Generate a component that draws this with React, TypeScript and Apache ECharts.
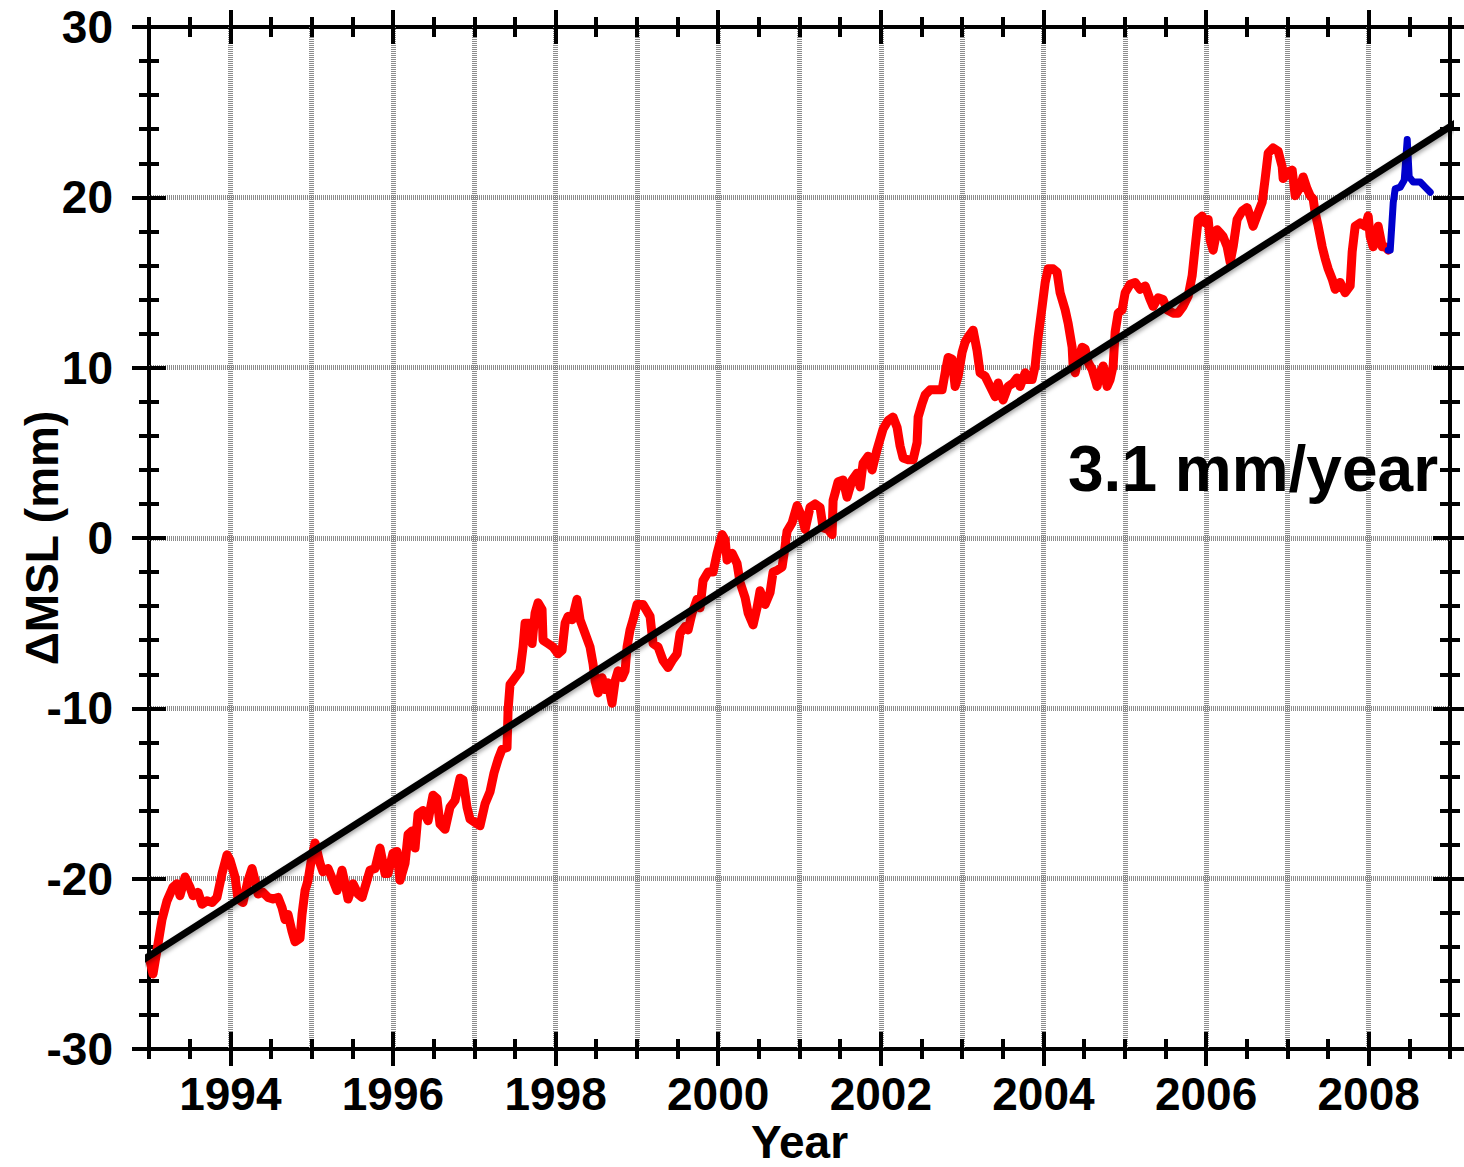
import React, { useEffect, useRef } from 'react';
import * as echarts from 'echarts';

// ---- data ----
const redYears = [
  1993.012, 1993.049, 1993.098, 1993.160, 1993.221, 1993.295, 1993.344, 1993.381, 1993.443, 1993.504, 1993.541, 1993.603, 1993.652, 1993.713, 1993.775, 1993.836, 1993.898, 1993.959, 1993.996,
  1994.058, 1994.095, 1994.156, 1994.218, 1994.267, 1994.304, 1994.341, 1994.402, 1994.464, 1994.525, 1994.587, 1994.636, 1994.673, 1994.710, 1994.759, 1994.796, 1994.857, 1994.882, 1994.919, 1994.956, 1994.993,
  1995.042, 1995.103, 1995.140, 1995.202, 1995.263, 1995.312, 1995.374, 1995.411, 1995.448, 1995.509, 1995.571, 1995.620, 1995.681, 1995.718, 1995.780, 1995.841, 1995.903, 1995.940,
  1996.001, 1996.050, 1996.087, 1996.149, 1996.186, 1996.235, 1996.272, 1996.309, 1996.370, 1996.432, 1996.493, 1996.542, 1996.579, 1996.641, 1996.702, 1996.764, 1996.825, 1996.862, 1996.911, 1996.948,
  1997.010, 1997.071, 1997.133, 1997.194, 1997.243, 1997.293, 1997.342, 1997.403, 1997.416, 1997.440, 1997.502, 1997.563, 1997.600, 1997.625, 1997.686, 1997.711, 1997.748, 1997.785, 1997.834, 1997.846, 1997.908, 1997.969,
  1998.031, 1998.080, 1998.117, 1998.154, 1998.203, 1998.264, 1998.301, 1998.363, 1998.424, 1998.461, 1998.486, 1998.523, 1998.572, 1998.609, 1998.646, 1998.695, 1998.732, 1998.769, 1998.818, 1998.855, 1998.879, 1998.916, 1998.953,
  1999.002, 1999.076, 1999.162, 1999.199, 1999.261, 1999.322, 1999.384, 1999.433, 1999.494, 1999.531, 1999.593, 1999.630, 1999.679, 1999.740, 1999.777, 1999.814, 1999.876, 1999.937, 1999.986,
  2000.048, 2000.085, 2000.109, 2000.171, 2000.232, 2000.269, 2000.331, 2000.368, 2000.429, 2000.478, 2000.515, 2000.577, 2000.638, 2000.675, 2000.724, 2000.786, 2000.823, 2000.847, 2000.909, 2000.970,
  2001.032, 2001.069, 2001.130, 2001.192, 2001.253, 2001.290, 2001.352, 2001.401, 2001.413, 2001.475, 2001.536, 2001.585, 2001.647, 2001.708, 2001.745, 2001.782, 2001.844, 2001.893, 2001.954, 2001.991,
  2002.028, 2002.090, 2002.151, 2002.200, 2002.237, 2002.274, 2002.336, 2002.397, 2002.446, 2002.459, 2002.508, 2002.545, 2002.606, 2002.692, 2002.754, 2002.791, 2002.828, 2002.877, 2002.914, 2002.951,
  2003.000, 2003.037, 2003.074, 2003.135, 2003.184, 2003.221, 2003.283, 2003.344, 2003.406, 2003.443, 2003.504, 2003.566, 2003.627, 2003.676, 2003.713, 2003.775, 2003.812, 2003.861, 2003.898, 2003.935, 2003.984,
  2004.021, 2004.058, 2004.119, 2004.168, 2004.205, 2004.267, 2004.304, 2004.353, 2004.365, 2004.390, 2004.427, 2004.476, 2004.513, 2004.550, 2004.599, 2004.636, 2004.660, 2004.697, 2004.734, 2004.783, 2004.820, 2004.857, 2004.882, 2004.919, 2004.968,
  2005.005, 2005.066, 2005.128, 2005.189, 2005.251, 2005.312, 2005.349, 2005.411, 2005.472, 2005.521, 2005.595, 2005.657, 2005.718, 2005.780, 2005.829, 2005.866, 2005.903, 2005.952, 2005.989,
  2006.026, 2006.050, 2006.087, 2006.136, 2006.173, 2006.210, 2006.259, 2006.296, 2006.333, 2006.382, 2006.444, 2006.505, 2006.542, 2006.579, 2006.641, 2006.690, 2006.727, 2006.764, 2006.825, 2006.887, 2006.936, 2006.948,
  2007.010, 2007.059, 2007.096, 2007.157, 2007.194, 2007.243, 2007.280, 2007.317, 2007.342, 2007.379, 2007.428, 2007.465, 2007.502, 2007.551, 2007.588, 2007.649, 2007.711, 2007.772, 2007.797, 2007.834, 2007.895, 2007.957, 2007.994,
  2008.018, 2008.055, 2008.105, 2008.117, 2008.166, 2008.203, 2008.240,
];

const redValues = [
  -24.8, -25.6, -24.2, -22.4, -21.3, -20.5, -20.3, -21.0, -19.9, -20.5, -21.0, -20.8, -21.5, -21.3, -21.4, -21.1, -19.7, -18.6, -18.9,
  -19.9, -21.2, -21.4, -20.1, -19.4, -20.1, -20.9, -20.8, -21.1, -21.2, -21.1, -21.7, -22.4, -22.1, -23.1, -23.7, -23.5, -22.1, -20.7, -20.1, -19.0,
  -17.9, -19.1, -19.6, -19.4, -20.1, -20.7, -19.5, -20.3, -21.2, -20.3, -20.9, -21.1, -20.1, -19.5, -19.4, -18.2, -19.7, -19.7,
  -18.5, -18.4, -20.1, -19.1, -17.4, -17.2, -18.2, -16.2, -16.0, -16.6, -15.1, -15.3, -16.8, -17.1, -15.8, -15.4, -14.1, -14.2, -15.8, -16.5,
  -16.7, -16.9, -15.6, -14.9, -13.8, -13.0, -12.4, -12.3, -10.1, -8.6, -8.2, -7.8, -6.4, -5.0, -5.0, -6.2, -4.4, -3.8, -4.2, -6.0, -6.2, -6.4,
  -6.8, -6.6, -5.0, -4.6, -4.8, -3.6, -4.8, -5.6, -6.4, -7.4, -8.4, -9.1, -8.2, -8.9, -8.5, -9.7, -8.4, -7.8, -8.2, -7.8, -6.4, -5.4, -4.8,
  -3.9, -3.9, -4.6, -6.2, -6.4, -7.2, -7.6, -7.2, -6.8, -5.6, -5.2, -5.4, -4.4, -3.6, -4.1, -2.5, -2.0, -2.0, -0.9,
  0.2, -0.1, -1.3, -0.9, -1.5, -2.6, -3.5, -4.4, -5.1, -4.1, -3.1, -3.9, -3.2, -2.0, -1.9, -1.7, -0.5, 0.4, 0.9, 1.9,
  1.2, 0.5, 1.8, 2.0, 1.8, 0.6, 0.5, 0.2, 2.2, 3.3, 3.4, 2.4, 3.4, 3.8, 3.0, 4.4, 4.8, 4.0, 5.2, 5.8,
  6.4, 6.9, 7.1, 6.5, 5.4, 4.7, 4.6, 4.6, 5.6, 7.1, 7.9, 8.4, 8.7, 8.7, 8.7, 9.7, 10.6, 10.5, 8.9, 9.5,
  10.9, 11.5, 11.8, 12.2, 11.0, 9.7, 9.5, 8.9, 8.3, 9.1, 8.1, 8.9, 9.1, 9.4, 8.9, 9.7, 9.3, 9.3, 10.1, 11.8, 13.6,
  15.0, 15.8, 15.8, 15.6, 14.4, 13.4, 12.6, 11.2, 10.1, 9.7, 10.5, 11.2, 11.1, 10.3, 9.9, 9.3, 8.9, 9.7, 10.1, 8.9, 9.3, 10.1, 12.1, 13.2, 13.4,
  14.4, 14.9, 15.0, 14.6, 14.8, 14.0, 13.6, 14.1, 14.0, 13.4, 13.2, 13.2, 13.6, 14.2, 15.4, 17.1, 18.7, 18.9, 18.5,
  18.7, 17.5, 16.9, 18.1, 17.9, 17.7, 17.1, 16.2, 17.1, 18.7, 19.2, 19.4, 18.9, 18.3, 19.1, 19.7, 21.1, 22.6, 22.9, 22.7, 21.8, 21.1,
  21.5, 21.6, 20.1, 20.6, 21.2, 20.5, 20.1, 19.9, 19.1, 18.3, 17.1, 16.4, 15.8, 15.2, 14.6, 15.0, 14.4, 14.8, 16.8, 18.3, 18.5, 18.3, 18.9,
  17.7, 17.1, 17.7, 18.3, 17.1, 17.1, 16.9,
];

const blueYears = [2008.240, 2008.265, 2008.302, 2008.326, 2008.388, 2008.437, 2008.474, 2008.498, 2008.548, 2008.634, 2008.695, 2008.757];
const blueValues = [16.9, 16.9, 19.7, 20.5, 20.6, 21.0, 23.4, 21.2, 20.9, 20.9, 20.6, 20.3];

const trendYears = [1992.86, 2009.17];
const trendValues = [-24.97, 24.67];

const xLabelYears = [1994, 1996, 1998, 2000, 2002, 2004, 2006, 2008];
const rateLabel = '3.1 mm/year';
const xAxisTitle = 'Year';
const yAxisTitle = '\u0394MSL (mm)';

const X_MIN = 1993;
const X_MAX = 2009;
const Y_MIN = -30;
const Y_MAX = 30;

const FONT = '"Liberation Sans", Arial, Helvetica, sans-serif';

export default function App() {
  const ref = useRef<HTMLDivElement>(null);

  useEffect(() => {
    if (!ref.current) return;
    const chart = echarts.init(ref.current, undefined, { renderer: 'svg' });

    const tickLine = { color: '#000', width: 4 };
    const gridLine = { color: '#8c8c8c', width: 5, type: [1, 1] as any };
    const labelStyle = { fontSize: 46, fontWeight: 'bold' as const, color: '#000', fontFamily: FONT };

    const tickX = (position: string, offset: number, length: number, extra: any) => ({
      type: 'value',
      min: X_MIN,
      max: X_MAX,
      position,
      offset,
      axisLine: { show: false, onZero: false },
      axisLabel: { show: false },
      splitLine: { show: false },
      axisTick: { show: true, length, lineStyle: tickLine, ...(extra.tick || {}) },
      ...(extra.axis || {}),
    });
    const tickY = (position: string, offset: number, length: number, interval: number) => ({
      type: 'value',
      min: Y_MIN,
      max: Y_MAX,
      interval,
      position,
      offset,
      axisLine: { show: false, onZero: false },
      axisLabel: { show: false },
      splitLine: { show: false },
      axisTick: { show: true, length, lineStyle: tickLine },
    });

    const option: any = {
      animation: false,
      backgroundColor: '#ffffff',
      grid: {
        left: 149,
        right: 14,
        top: 27,
        bottom: 118,
        containLabel: false,
        outerBoundsMode: 'none',
        show: true,
        borderColor: '#000',
        borderWidth: 4,
        backgroundColor: 'transparent',
      },
      xAxis: [
        {
          type: 'value',
          min: X_MIN,
          max: X_MAX,
          interval: 1,
          position: 'bottom',
          axisLine: { show: false, onZero: false },
          axisTick: { show: false },
          axisLabel: {
            ...labelStyle,
            margin: 22,
            formatter: (v: number) => (xLabelYears.includes(Math.round(v)) ? String(Math.round(v)) : ''),
          },
          splitLine: { show: true, showMinLine: false, showMaxLine: false, lineStyle: gridLine },
          name: xAxisTitle,
          nameLocation: 'middle',
          nameGap: 71,
          nameMoveOverlap: false,
          nameTextStyle: { ...labelStyle, lineHeight: 44 },
        },
        tickX('bottom', -17, 34, { tick: { customValues: xLabelYears } }),
        tickX('bottom', -10, 20, { axis: { interval: 0.5 } }),
        tickX('top', -17, 34, { tick: { customValues: xLabelYears } }),
        tickX('top', -10, 20, { axis: { interval: 0.5 } }),
      ],
      yAxis: [
        {
          type: 'value',
          min: Y_MIN,
          max: Y_MAX,
          interval: 10,
          position: 'left',
          axisLine: { show: false, onZero: false },
          axisTick: { show: false },
          axisLabel: { ...labelStyle, margin: 36 },
          splitLine: { show: true, showMinLine: false, showMaxLine: false, lineStyle: gridLine },
          name: yAxisTitle,
          nameLocation: 'middle',
          nameGap: 84,
          nameMoveOverlap: false,
          nameTextStyle: { ...labelStyle },
        },
        tickY('left', -17, 34, 10),
        tickY('left', -10, 20, 2),
        tickY('right', -17, 34, 10),
        tickY('right', -10, 20, 2),
      ],
      series: [
        {
          type: 'line',
          name: 'MSL',
          data: redYears.map((y, i) => [y, redValues[i]]),
          symbol: 'none',
          showSymbol: false,
          lineStyle: { color: '#ff0000', width: 9, cap: 'round', join: 'round' },
          z: 3,
        },
        {
          type: 'line',
          name: 'MSL recent',
          data: blueYears.map((y, i) => [y, blueValues[i]]),
          symbol: 'none',
          showSymbol: false,
          lineStyle: { color: '#0000cc', width: 7, cap: 'round', join: 'round' },
          z: 4,
        },
        {
          type: 'line',
          name: 'Trend',
          data: trendYears.map((y, i) => [y, trendValues[i]]),
          symbol: 'none',
          showSymbol: false,
          clip: false,
          lineStyle: {
            color: '#000',
            width: 7,
            shadowColor: 'rgba(0,0,0,0.35)',
            shadowBlur: 4,
            shadowOffsetY: 3,
          },
          z: 5,
        },
      ],
      graphic: [
        {
          type: 'text',
          x: 1068,
          y: 469,
          z: 10,
          style: {
            text: rateLabel,
            fontSize: 64,
            fontWeight: 'bold',
            fontFamily: FONT,
            fill: '#000',
            align: 'left',
            verticalAlign: 'middle',
          },
        },
      ],
    };

    chart.setOption(option);
    return () => chart.dispose();
  }, []);

  return (
    <div
      ref={ref}
      style={{ position: 'fixed', left: 0, top: 0, width: 1464, height: 1167, background: '#fff' }}
    />
  );
}
